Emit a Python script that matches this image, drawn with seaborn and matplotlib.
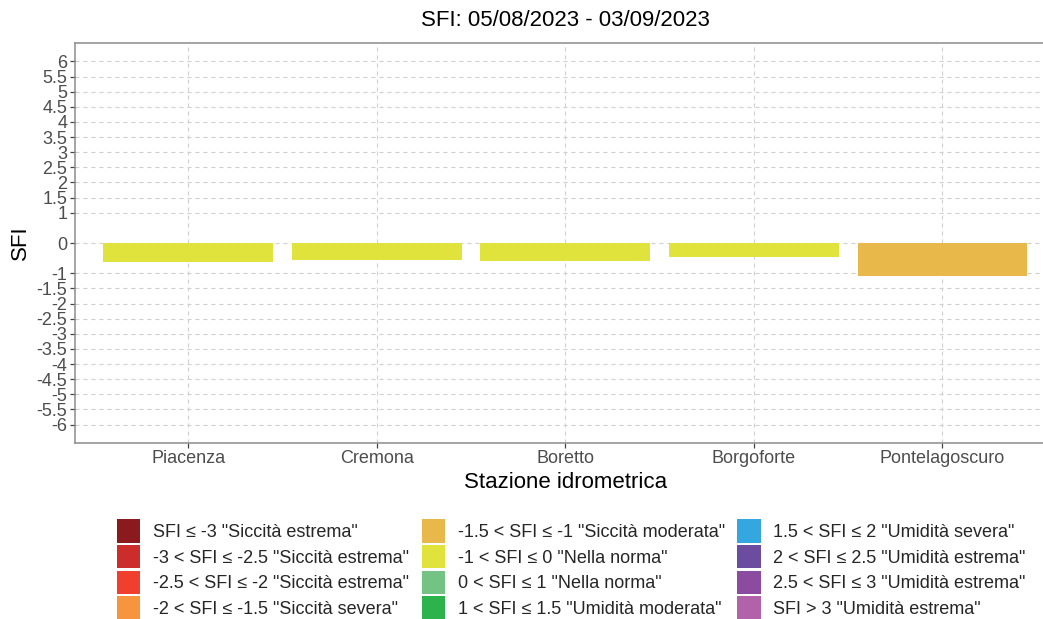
import numpy as np
import pandas as pd
import matplotlib
matplotlib.use("Agg")
import matplotlib.pyplot as plt
from matplotlib.patches import Patch
import seaborn as sns

# ---- data ----
stations = ["Piacenza", "Cremona", "Boretto", "Borgoforte", "Pontelagoscuro"]
sfi_values = [-0.63, -0.57, -0.58, -0.47, -1.10]

class_labels = [
    'SFI ≤ -3 "Siccità estrema"',
    '-3 < SFI ≤ -2.5 "Siccità estrema"',
    '-2.5 < SFI ≤ -2 "Siccità estrema"',
    '-2 < SFI ≤ -1.5 "Siccità severa"',
    '-1.5 < SFI ≤ -1 "Siccità moderata"',
    '-1 < SFI ≤ 0 "Nella norma"',
    '0 < SFI ≤ 1 "Nella norma"',
    '1 < SFI ≤ 1.5 "Umidità moderata"',
    '1.5 < SFI ≤ 2 "Umidità severa"',
    '2 < SFI ≤ 2.5 "Umidità estrema"',
    '2.5 < SFI ≤ 3 "Umidità estrema"',
    'SFI > 3 "Umidità estrema"',
]
class_colors = [
    "#8B1A1E", "#CC2C2A", "#F03F2F", "#F7953F",
    "#E8B84A", "#E1E33D", "#73C384", "#2DB34B",
    "#35A7E0", "#6C4C9E", "#8B4CA0", "#B262A9",
]
class_bounds = [-np.inf, -3, -2.5, -2, -1.5, -1, 0, 1, 1.5, 2, 2.5, 3, np.inf]

y_breaks = [-6, -5.5, -5, -4.5, -4, -3.5, -3, -2.5, -2, -1.5, -1,
            0, 1, 1.5, 2, 2.5, 3, 3.5, 4, 4.5, 5, 5.5, 6]
y_break_labels = ["-6", "-5.5", "-5", "-4.5", "-4", "-3.5", "-3", "-2.5", "-2", "-1.5", "-1",
                  "0", "1", "1.5", "2", "2.5", "3", "3.5", "4", "4.5", "5", "5.5", "6"]

title = "SFI: 05/08/2023 - 03/09/2023"
x_title = "Stazione idrometrica"
y_title = "SFI"

df = pd.DataFrame({"station": stations, "sfi": sfi_values})
df["cls"] = pd.cut(df["sfi"], bins=class_bounds, labels=class_labels, right=True).astype(str)

# ---- style ----
sns.set_theme(style="white")
plt.rcParams["font.family"] = ["Liberation Sans", "DejaVu Sans"]

W, H = 1043, 619
fig = plt.figure(figsize=(W / 100, H / 100), dpi=100)
fig.patch.set_facecolor("white")

left_px, right_px, top_px, bot_px = 75, 1055.5, 43.3, 442.7
ax = fig.add_axes([left_px / W, 1 - bot_px / H, (right_px - left_px) / W, (bot_px - top_px) / H])
ax.set_facecolor("white")

palette = dict(zip(class_labels, class_colors))
sns.barplot(data=df, x="station", y="sfi", hue="cls", order=stations,
            hue_order=class_labels, palette=palette, dodge=False, width=0.9,
            saturation=1, legend=False, linewidth=0, ax=ax, zorder=3)

ax.set_xlim(-0.6, 4.6)
ax.set_ylim(-6.6, 6.6)
ax.set_yticks(y_breaks)
ax.set_yticklabels(y_break_labels)

grid_kw = dict(color="#cfcfcf", linewidth=0.8, linestyle=(0, (3.6, 3.6)))
ax.grid(True, axis="both", zorder=0, **grid_kw)
ax.set_axisbelow(True)

for s in ax.spines.values():
    s.set_color("#8c8c8c")
    s.set_linewidth(1.1)
ax.spines["right"].set_visible(False)

ax.tick_params(axis="both", which="major", direction="out", length=3.5, width=0.9,
               color="#444444", labelcolor="#4d4d4d", labelsize=13, pad=2,
               bottom=True, left=True)

ax.set_xlabel(x_title, fontsize=16, color="black")
ax.set_ylabel(y_title, fontsize=16, color="black")
ax.xaxis.set_label_coords(0.5, (bot_px - 482) / (bot_px - top_px))
ax.xaxis.label.set_verticalalignment("center")
ax.yaxis.set_label_coords((20 - left_px) / (right_px - left_px), 0.5)
ax.yaxis.label.set_verticalalignment("center")

fig.text((left_px + right_px) / 2 / W, 1 - 21 / H, title, ha="center", va="center",
         fontsize=16, color="black")

# ---- legend: three columns ----
col_x = [116.7, 421.7, 737.3]
legend_top = 519.3
for c in range(3):
    idx = range(c * 4, c * 4 + 4)
    handles = [Patch(facecolor=class_colors[i], edgecolor="none") for i in idx]
    labels = [class_labels[i] for i in idx]
    fig.legend(handles, labels, loc="upper left",
               bbox_to_anchor=(col_x[c] / W, 1 - legend_top / H),
               frameon=False, fontsize=13, handlelength=1.29, handleheight=1.61,
               handletextpad=0.70, labelspacing=0.13, borderpad=0, borderaxespad=0)

fig.savefig("out.png", dpi=100, facecolor="white")
